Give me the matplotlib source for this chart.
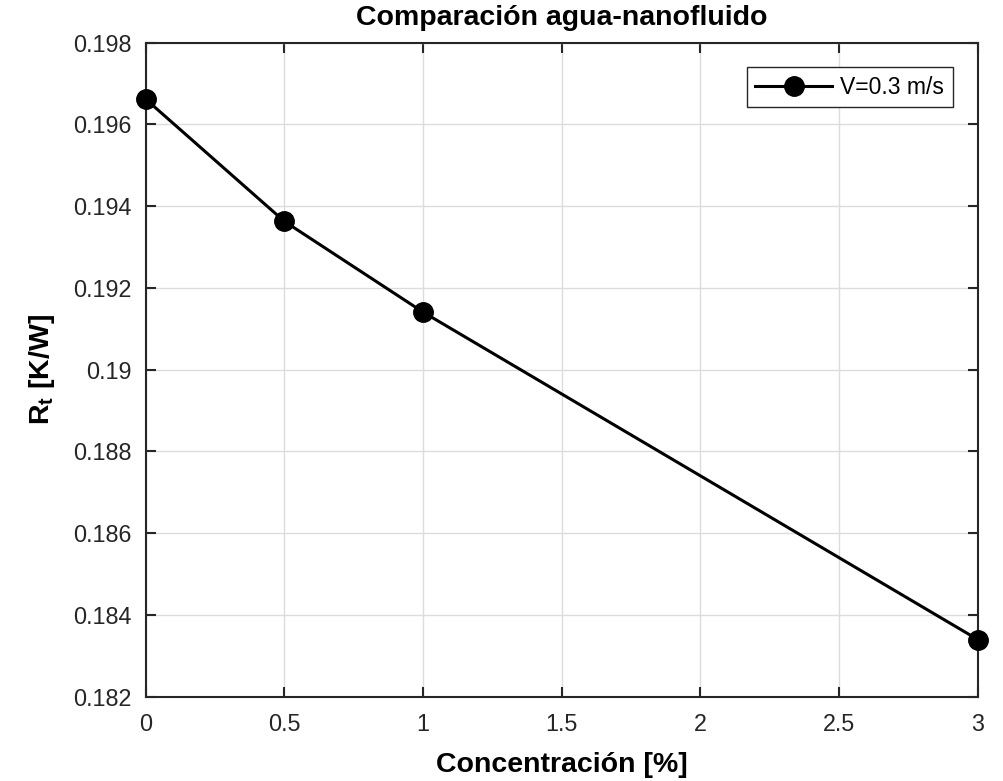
import numpy as np
import matplotlib
matplotlib.use('Agg')
import matplotlib.pyplot as plt

# datos
concentracion = [0, 0.5, 1, 3]
rt = [0.19662, 0.19363, 0.19141, 0.18340]
etiqueta = 'V=0.3 m/s'

plt.rcParams['font.family'] = ['Liberation Sans', 'DejaVu Sans']
plt.rcParams['mathtext.fontset'] = 'custom'
plt.rcParams['mathtext.rm'] = 'Liberation Sans'
plt.rcParams['mathtext.bf'] = 'Liberation Sans:bold'

fig = plt.figure(figsize=(10.04, 7.81), dpi=100)
ax = fig.add_axes([0.1451, 0.1079, 0.9738 - 0.1451, 0.9453 - 0.1079])

ax.plot(concentracion, rt, '-o', color='black', lw=2.2, ms=14, label=etiqueta, clip_on=False, zorder=5)

ax.set_xlim(0, 3)
ax.set_ylim(0.182, 0.198)
ax.set_xticks(np.arange(0, 3.01, 0.5))
ax.set_xticklabels(['0', '0.5', '1', '1.5', '2', '2.5', '3'])
ax.set_yticks(np.arange(0.182, 0.1981, 0.002))
ax.set_yticklabels(['0.182', '0.184', '0.186', '0.188', '0.19', '0.192', '0.194', '0.196', '0.198'])

ax.grid(True, color='#dcdcdc', lw=1)
ax.set_axisbelow(True)
ax.tick_params(direction='in', length=7, width=1.5, top=True, right=True,
               labelsize=16.8, colors='#262626')
ax.tick_params(axis='x', pad=12)
ax.tick_params(axis='y', pad=10)
for s in ax.spines.values():
    s.set_linewidth(1.5)
    s.set_color('#262626')

ax.set_xlabel('Concentración [%]', fontsize=20.5, fontweight='bold', labelpad=11)
ax.set_ylabel(r'$\mathbf{R_t}$ [K/W]', fontsize=20.5, fontweight='bold', labelpad=12)
ax.set_title('Comparación agua-nanofluido', fontsize=20.5, fontweight='bold', pad=13)

leg = ax.legend(loc='upper right', bbox_to_anchor=(0.970, 0.963), fontsize=16.5,
                fancybox=False, framealpha=1, edgecolor='#262626', handlelength=3.35,
                borderpad=0.38, handletextpad=0.35, borderaxespad=0)
leg.get_frame().set_linewidth(1)

fig.savefig('out.png', dpi=100)
